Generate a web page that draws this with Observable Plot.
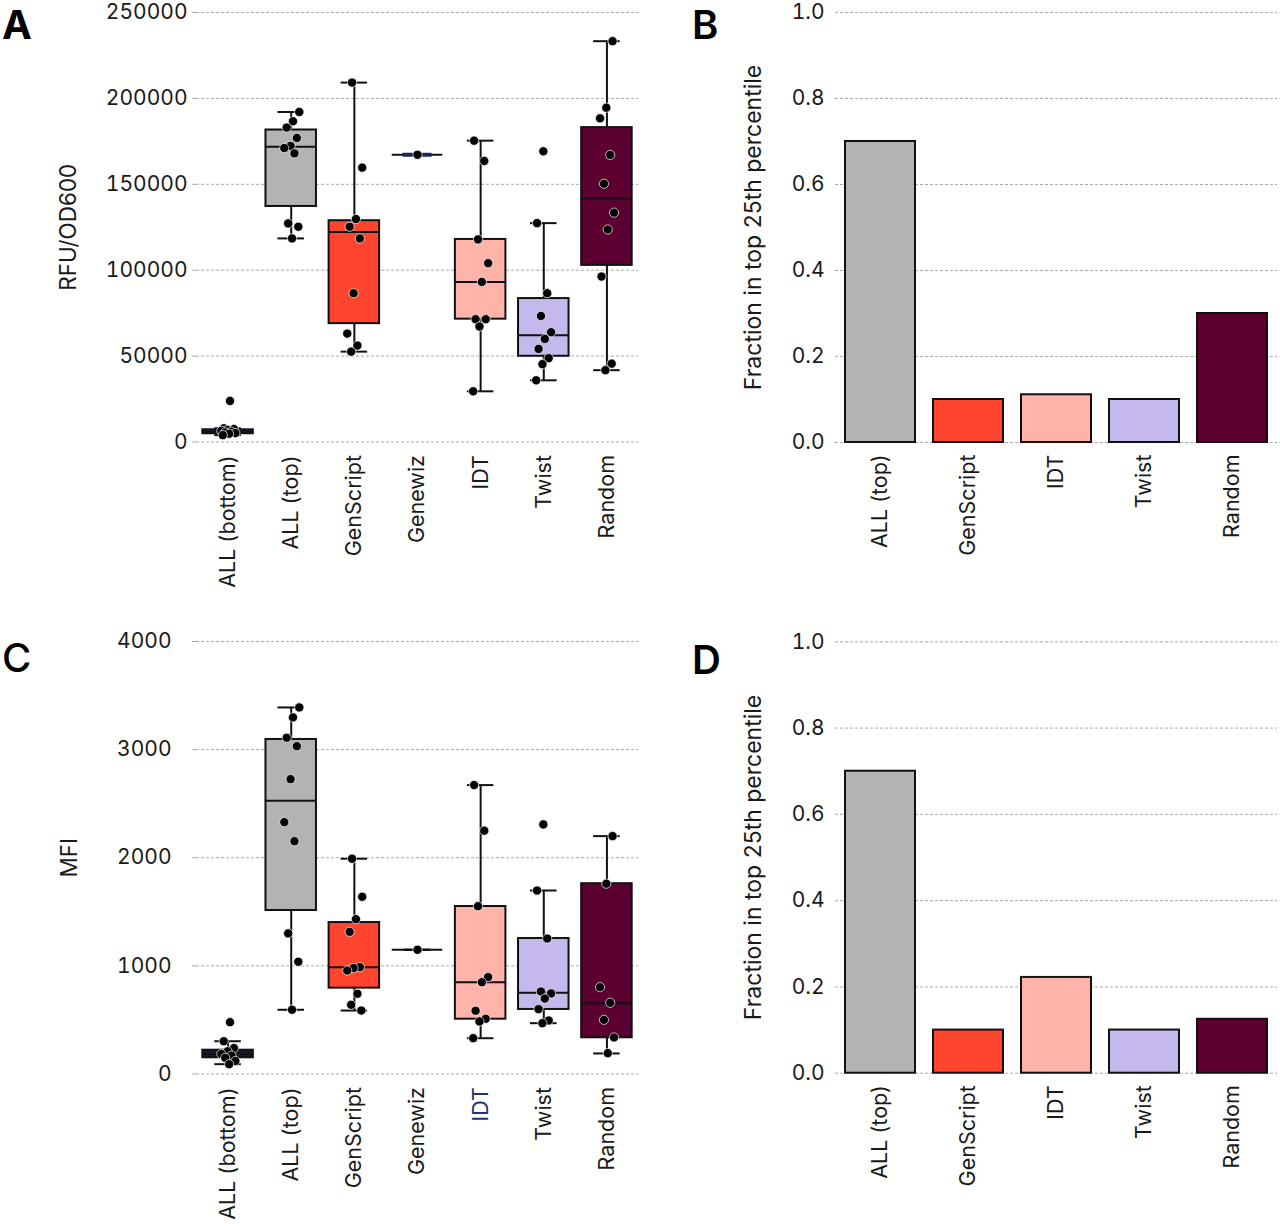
<!DOCTYPE html>
<html><head><meta charset="utf-8">
<script src="https://cdn.jsdelivr.net/npm/d3@7"></script>
<script src="https://cdn.jsdelivr.net/npm/@observablehq/plot@0.6"></script>
<style>
body{margin:0;background:#fff;}
#wrap{position:relative;width:1280px;height:1227px;overflow:hidden;font-family:Inter, "DejaVu Sans", sans-serif;}
.panel{position:absolute;}
.letter{position:absolute;font-size:40px;line-height:normal;font-weight:700;color:#000;font-family:Inter, sans-serif;}
</style></head><body><div id="wrap"></div>
<script>
// ---------- data ----------
const boxCategories = ["ALL (bottom)", "ALL (top)", "GenScript", "Genewiz", "IDT", "Twist", "Random"];
const barCategories = ["ALL (top)", "GenScript", "IDT", "Twist", "Random"];
const categoryColors = ["#161b33", "#b3b3b3", "#ff452d", "#1d2452", "#ffb3a9", "#c5b8ec", "#5b0030"];

const rfuTicks = [0, 50000, 100000, 150000, 200000, 250000];
const mfiTicks = [0, 1000, 2000, 3000, 4000];
const fractionTicks = [0, 0.2, 0.4, 0.6, 0.8, 1.0];

// Panel A: RFU/OD600 individual designs
const rfuPoints = [
  [23900, 8000, 7500, 7000, 6500, 6000, 5600, 5200, 4800, 4000],
  [192100, 186700, 183000, 177000, 172300, 171100, 168000, 127200, 125300, 118500],
  [209200, 159700, 129800, 125300, 118500, 86600, 63100, 56100, 52600],
  [167200],
  [175400, 163600, 117900, 104100, 93200, 71500, 71500, 67200, 29500],
  [169200, 127400, 86600, 73400, 63900, 60000, 54200, 48800, 45300, 35900],
  [233300, 194600, 188400, 167100, 150300, 133500, 123700, 96300, 45600, 41800]
];
const rfuQ1 = [4800, 137100, 68900, 167200, 71500, 49900, 102800];
const rfuMedian = [5800, 171900, 122200, 167200, 93200, 62200, 141800];
const rfuQ3 = [7100, 181600, 128800, 167200, 117900, 83500, 183000];
const rfuLow = [4000, 118500, 52600, 167200, 29500, 35900, 41800];
const rfuHigh = [8000, 192100, 209200, 167200, 175400, 127400, 233300];

// Panel C: MFI individual designs
const mfiPoints = [
  [479, 303, 240, 210, 185, 170, 150, 120, 91],
  [3390, 3298, 3110, 3032, 2727, 2329, 2153, 1300, 1038, 594],
  [1991, 1639, 1432, 1315, 988, 980, 957, 742, 640, 587],
  [1149],
  [2672, 2250, 1552, 896, 849, 585, 511, 486, 331],
  [2308, 1697, 1253, 763, 745, 698, 600, 495, 470],
  [2200, 1760, 803, 659, 501, 338, 193]
];
const mfiQ1 = [150, 1512, 794, 1149, 507, 597, 335];
const mfiMedian = [185, 2527, 988, 1149, 849, 751, 655];
const mfiQ3 = [220, 3094, 1401, 1149, 1549, 1253, 1760];
const mfiLow = [91, 594, 587, 1149, 331, 470, 190];
const mfiHigh = [303, 3390, 1991, 1149, 2672, 1697, 2200];

// Panels B and D: fraction in top 25th percentile
const fractionRfu = [0.7, 0.1, 0.111, 0.1, 0.3];
const fractionMfi = [0.7, 0.1, 0.222, 0.1, 0.125];

// ---------- drawing ----------
const FONT = "Inter, 'DejaVu Sans', sans-serif";
const colorOf = c => categoryColors[boxCategories.indexOf(c)];
const jitter = (i, j, n) => n === 1 ? 0 : ((((j + 1) * 0.6180339 + i * 0.371) % 1) - 0.5) * 0.26;

function boxPanel(o) {
  const stats = boxCategories.map((c, i) => ({
    i, c, q1: o.q1[i], med: o.med[i], q3: o.q3[i], lo: o.lo[i], hi: o.hi[i]
  }));
  const pts = o.points.flatMap((arr, i) => arr.map((v, j) => ({i, v, dx: jitter(i, j, arr.length)})));
  const xt = d3.range(boxCategories.length);
  const axisOpts = {tickFormat: i => boxCategories[i], tickRotate: -90, tickSize: 0, tickPadding: o.xPad, label: null, fontSize: 21.5, fill: "#1a1a1a"};
  return Plot.plot({
    width: 640, height: o.height,
    marginLeft: 196, marginRight: 2, marginTop: o.marginTop, marginBottom: o.marginBottom,
    style: {fontFamily: FONT, fontSize: "21px", color: "#1a1a1a", background: "transparent", overflow: "visible"},
    x: {domain: [-0.5, boxCategories.length - 0.5]},
    y: {domain: [0, o.ticks[o.ticks.length - 1]]},
    marks: [
      Plot.gridY(o.ticks, {stroke: "#a9a9a9", strokeOpacity: 1, strokeDasharray: "3,2", strokeWidth: 1}),
      Plot.axisY(o.ticks, {tickSize: 4, tickPadding: o.yPad, stroke: "#aaa", fill: "#1a1a1a",
        tickFormat: d => String(d), label: null, fontSize: 21}),
      Plot.text([o.label], {frameAnchor: "left", rotate: -90, dx: o.titleDx, fontSize: 22.5,
        lineAnchor: "middle", textAnchor: "middle", fill: "#1a1a1a"}),
      o.idtColor
        ? Plot.axisX(xt.filter(i => i !== 4), axisOpts)
        : Plot.axisX(xt, axisOpts),
      o.idtColor ? Plot.axisX([4], {...axisOpts, fill: o.idtColor}) : null,
      Plot.ruleX(stats, {x: "i", y1: "q3", y2: "hi", stroke: "#111", strokeWidth: 2}),
      Plot.ruleX(stats, {x: "i", y1: "lo", y2: "q1", stroke: "#111", strokeWidth: 2}),
      Plot.ruleY(stats, {y: "hi", x1: d => d.i - 0.21, x2: d => d.i + 0.21, stroke: "#111", strokeWidth: 2}),
      Plot.ruleY(stats, {y: "lo", x1: d => d.i - 0.21, x2: d => d.i + 0.21, stroke: "#111", strokeWidth: 2}),
      Plot.rect(stats.filter(d => d.q3 > d.q1), {
        x1: d => d.i - 0.4, x2: d => d.i + 0.4, y1: "q1", y2: "q3",
        fill: d => categoryColors[d.i], stroke: "#111", strokeWidth: 2
      }),
      Plot.ruleY(stats, {y: "med", x1: d => d.i - 0.4, x2: d => d.i + 0.4, stroke: "#111", strokeWidth: 2}),
      o.navyCap ? Plot.ruleY(stats.filter(d => d.lo === d.hi), {
        y: "med", x1: d => d.i - 0.23, x2: d => d.i + 0.23, stroke: d => categoryColors[d.i], strokeWidth: 4
      }) : null,
      Plot.dot(pts, {x: d => d.i + d.dx, y: "v", r: 4.6, fill: "#000", stroke: "#fff", strokeWidth: 0.7})
    ]
  });
}

function barPanel(o) {
  const rows = barCategories.map((c, k) => ({c, v: o.values[k]}));
  return Plot.plot({
    width: 640, height: o.height,
    marginLeft: 195, marginRight: 3, marginTop: o.marginTop, marginBottom: o.marginBottom,
    style: {fontFamily: FONT, fontSize: "21px", color: "#1a1a1a", background: "transparent", overflow: "visible"},
    x: {domain: barCategories, paddingInner: 0.2, paddingOuter: 0.1},
    y: {domain: [0, 1]},
    marks: [
      Plot.gridY(fractionTicks, {stroke: "#a9a9a9", strokeOpacity: 1, strokeDasharray: "3,2", strokeWidth: 1}),
      Plot.axisY(fractionTicks, {tickSize: 0, tickPadding: 11, fill: "#1a1a1a",
        tickFormat: d3.format(".1f"), label: null, fontSize: 21}),
      Plot.text(["Fraction in top 25th percentile"], {frameAnchor: "left", rotate: -90, dx: -82, fontSize: 23,
        lineAnchor: "middle", textAnchor: "middle", fill: "#1a1a1a"}),
      Plot.axisX({tickRotate: -90, tickSize: 0, tickPadding: o.xPad, label: null, fontSize: 21.5, fill: "#1a1a1a"}),
      Plot.barY(rows, {x: "c", y: "v", fill: d => colorOf(d.c), stroke: "#111", strokeWidth: 2})
    ]
  });
}

const wrap = document.getElementById("wrap");
function place(node, left, top) {
  node.classList.add("panel");
  node.style.left = left + "px";
  node.style.top = top + "px";
  wrap.appendChild(node);
}

place(boxPanel({
  points: rfuPoints, q1: rfuQ1, med: rfuMedian, q3: rfuQ3, lo: rfuLow, hi: rfuHigh,
  ticks: rfuTicks, label: "RFU/OD600", titleDx: -128, yPad: 5, xPad: 13,
  height: 615, marginTop: 12, marginBottom: 173.5, navyCap: true
}), 0, 0);

place(boxPanel({
  points: mfiPoints, q1: mfiQ1, med: mfiMedian, q3: mfiQ3, lo: mfiLow, hi: mfiHigh,
  ticks: mfiTicks, label: "MFI", titleDx: -127, yPad: 21, xPad: 13,
  height: 612, marginTop: 26, marginBottom: 153.5, navyCap: false, idtColor: "#26306e"
}), 0, 615);

place(barPanel({values: fractionRfu, height: 615, marginTop: 12, marginBottom: 173, xPad: 12}), 640, 0);
place(barPanel({values: fractionMfi, height: 612, marginTop: 26.3, marginBottom: 154.3, xPad: 12}), 640, 615);

const letters = [["A", 2, 0, 700], ["B", 692, 0, 600], ["C", 2, 633, 500], ["D", 692, 635, 600]];
for (const [t, x, y, w] of letters) {
  const el = document.createElement("div");
  el.className = "letter";
  el.textContent = t;
  el.style.left = x + "px";
  el.style.top = y + "px";
  el.style.fontWeight = w;
  wrap.appendChild(el);
}
</script>
</body></html>
